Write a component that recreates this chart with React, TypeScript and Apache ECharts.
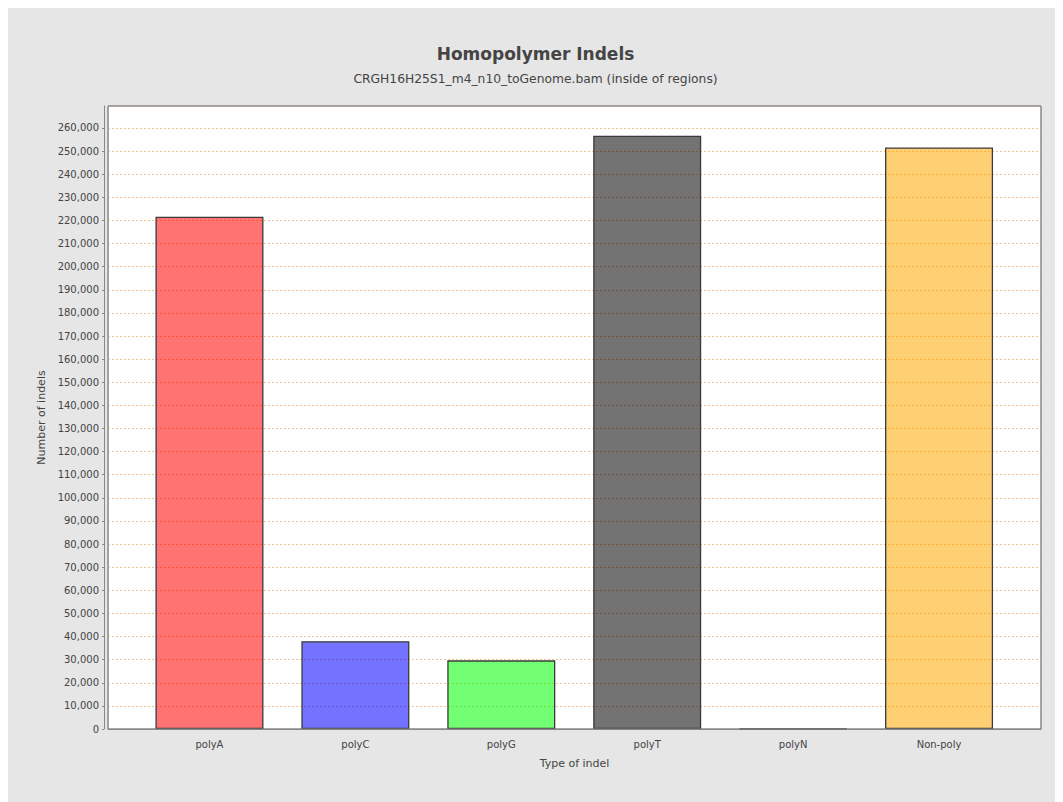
import React, { useEffect, useRef } from "react";
import * as echarts from "echarts";

const categories = ["polyA", "polyC", "polyG", "polyT", "polyN", "Non-poly"];
const counts = [221600, 38000, 29700, 256600, 150, 251600];
const barColors = [
  "rgba(255,0,0,0.55)",
  "rgba(0,0,255,0.55)",
  "rgba(0,255,0,0.55)",
  "rgba(0,0,0,0.55)",
  "rgba(255,170,0,0.55)",
  "rgba(255,170,0,0.55)",
];
const titleText = "Homopolymer Indels";
const subtitleText = "CRGH16H25S1_m4_n10_toGenome.bam (inside of regions)";
const yName = "Number of indels";
const xName = "Type of indel";
const yMax = 269500;
const yStep = 10000;

const FONT = "DejaVu Sans";

export default function App() {
  const ref = useRef<HTMLDivElement>(null);
  useEffect(() => {
    document.body.style.overflow = "hidden";
    document.documentElement.style.overflow = "hidden";
    const chart = echarts.init(ref.current!, undefined, { renderer: "svg" });
    chart.setOption({
      animation: false,
      backgroundColor: "#e6e6e6",
      textStyle: { fontFamily: FONT },
      title: [
        {
          text: titleText,
          left: "center",
          top: 32,
          textStyle: { fontFamily: FONT, fontSize: 17, fontWeight: "bold", color: "#444" },
        },
        {
          text: subtitleText,
          left: "center",
          top: 60,
          textStyle: { fontFamily: FONT, fontSize: 12.3, fontWeight: "normal", color: "#444" },
        },
      ],
      grid: [
        {
          left: 100,
          top: 98,
          width: 933,
          height: 623,
          show: true,
          backgroundColor: "#ffffff",
          borderColor: "#888",
          borderWidth: 1,
        },
        { left: 128.5, top: 98, width: 875.5, height: 623 },
      ],
      graphic: [
        {
          type: "rect",
          z: 100,
          silent: true,
          shape: { x: 100, y: 98, width: 933, height: 623 },
          style: { fill: "none", stroke: "#888", lineWidth: 1 },
        },
      ],
      xAxis: [
        {
          gridIndex: 0,
          type: "category",
          data: [""],
          offset: 4,
          axisLine: { show: true, lineStyle: { color: "#888" } },
          axisTick: { show: false },
          axisLabel: { show: false },
          splitLine: { show: false },
          name: xName,
          nameLocation: "middle",
          nameGap: 25,
          nameTextStyle: { fontFamily: FONT, fontSize: 11, color: "#444" },
        },
        {
          gridIndex: 1,
          type: "category",
          data: categories,
          axisLine: { show: false },
          axisTick: { show: false },
          axisLabel: { margin: 10, fontSize: 10, color: "#444", fontFamily: FONT },
        },
      ],
      yAxis: [
        {
          gridIndex: 0,
          type: "value",
          min: 0,
          max: yMax,
          interval: yStep,
          offset: 4,
          axisLine: { show: true, lineStyle: { color: "#888" } },
          axisTick: { show: true, length: 2, lineStyle: { color: "#888" } },
          axisLabel: {
            fontSize: 10,
            color: "#444",
            margin: 5,
            fontFamily: FONT,
            showMaxLabel: false,
            formatter: (v: number) => (v % yStep === 0 ? v.toLocaleString("en-US") : ""),
          },
          splitLine: { show: true, lineStyle: { color: "#f3c294", type: [2, 2], width: 1 } },
          name: yName,
          nameLocation: "middle",
          nameGap: 49,
          nameTextStyle: { fontFamily: FONT, fontSize: 11, color: "#444" },
        },
        {
          gridIndex: 1,
          type: "value",
          min: 0,
          max: yMax,
          show: false,
          splitLine: { show: false },
        },
      ],
      series: [
        {
          type: "bar",
          xAxisIndex: 1,
          yAxisIndex: 1,
          barWidth: 108,
          data: counts.map((v, i) => ({
            value: v,
            itemStyle: { color: barColors[i] },
          })),
          itemStyle: { borderColor: "#3a3a3a", borderWidth: 1.3 },
        },
      ],
    });
    return () => chart.dispose();
  }, []);
  return <div ref={ref} style={{ width: 1055, height: 794 }} />;
}
